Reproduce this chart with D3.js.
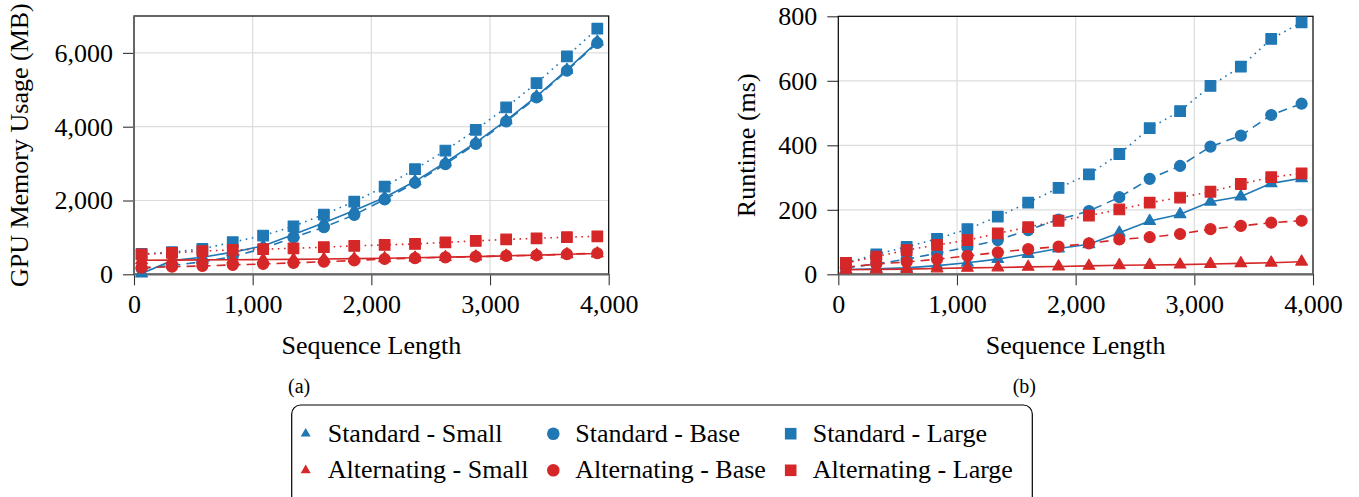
<!DOCTYPE html>
<html lang="en">
<head>
<meta charset="UTF-8">
<title>Memory and runtime vs sequence length</title>
<script src="https://cdnjs.cloudflare.com/ajax/libs/d3/7.6.1/d3.min.js"></script>
<style>
  body { margin: 0; background: #fff; }
  svg text { font-family: "Liberation Serif", "Times New Roman", Tinos, "Noto Serif", "DejaVu Serif", serif !important; fill: #000; }
</style>
</head>
<body>
<svg id="chart" width="1359" height="497"></svg>
<script>
// sequence lengths on the x axis
const seqLen = [64, 320, 576, 832, 1088, 1344, 1600, 1856, 2112, 2368, 2624, 2880, 3136, 3392, 3648, 3904];

// (a) GPU memory usage (MB)
const memStdSmall = [20, 370, 460, 600, 770, 1080, 1400, 1730, 2080, 2520, 3030, 3570, 4170, 4820, 5540, 6300];
const memStdBase  = [160, 240, 340, 480, 700, 1000, 1275, 1610, 2030, 2480, 2985, 3536, 4141, 4792, 5517, 6269];
const memStdLarge = [550, 600, 690, 870, 1050, 1300, 1620, 1970, 2377, 2849, 3354, 3916, 4521, 5183, 5905, 6657];
const memAltSmall = [380, 385, 390, 395, 400, 405, 415, 425, 435, 450, 465, 480, 500, 520, 545, 565];
const memAltBase  = [180, 205, 225, 255, 280, 310, 340, 375, 415, 440, 460, 480, 500, 515, 545, 570];
const memAltLarge = [540, 580, 630, 660, 680, 705, 735, 770, 795, 822, 865, 905, 945, 975, 1005, 1030];

// (b) runtime (ms)
const rtStdSmall = [15, 17, 20, 27, 36, 47, 63, 80, 93, 129, 165, 186, 225, 241, 282, 298];
const rtStdBase  = [20, 32, 47, 65, 84, 106, 137, 170, 196, 239, 296, 336, 396, 430, 494, 529];
const rtStdLarge = [35, 62, 85, 110, 140, 179, 222, 268, 310, 373, 453, 506, 584, 644, 730, 781];
const rtAltSmall = [14, 15, 16, 18, 20, 21, 23, 24, 26, 28, 29, 30, 32, 34, 36, 39];
const rtAltBase  = [22, 32, 38, 47, 57, 68, 78, 86, 96, 108, 115, 125, 140, 150, 160, 166];
const rtAltLarge = [35, 55, 75, 91, 106, 127, 146, 166, 182, 201, 222, 238, 256, 280, 301, 313];

const seriesNames = ["Standard - Small", "Standard - Base", "Standard - Large",
                     "Alternating - Small", "Alternating - Base", "Alternating - Large"];
const xTicks = [0, 1000, 2000, 3000, 4000];
const memTicks = [0, 2000, 4000, 6000];
const rtTicks = [0, 200, 400, 600, 800];

const blue = "#1f77b4", red = "#d62728";
// style per series: colour, marker, dash
const styles = [
  {color: blue, shape: d3.symbolTriangle, dash: null},
  {color: blue, shape: d3.symbolCircle, dash: "9,6"},
  {color: blue, shape: d3.symbolSquare, dash: "1.6,4.6"},
  {color: red, shape: d3.symbolTriangle, dash: null},
  {color: red, shape: d3.symbolCircle, dash: "9,6"},
  {color: red, shape: d3.symbolSquare, dash: "1.6,4.6"}
];
const markSize = {triangle: 58, circle: 95, square: 112};
function sizeOf(shape, k) {
  const s = shape === d3.symbolTriangle ? markSize.triangle
          : shape === d3.symbolCircle ? markSize.circle : markSize.square;
  return s * k;
}

const svg = d3.select("#chart");

function drawPanel(opt) {
  const x = d3.scaleLinear().domain([0, 4000]).range([opt.left, opt.right]);
  const y = d3.scaleLinear().domain([0, opt.ymax]).range([opt.bottom, opt.top]);
  const g = svg.append("g");

  // grid
  g.append("g").selectAll("line").data(xTicks.slice(1, -1)).join("line")
    .attr("x1", d => x(d)).attr("x2", d => x(d))
    .attr("y1", opt.top).attr("y2", opt.bottom)
    .attr("stroke", "#dcdcdc").attr("stroke-width", 1.2);
  g.append("g").selectAll("line").data(opt.yTicks.filter(d => d > 0 && d < opt.ymax)).join("line")
    .attr("x1", opt.left).attr("x2", opt.right)
    .attr("y1", d => y(d)).attr("y2", d => y(d))
    .attr("stroke", "#dcdcdc").attr("stroke-width", 1.2);

  // axes
  const xAxis = g.append("g").attr("transform", `translate(0,${opt.bottom})`)
    .call(d3.axisBottom(x).tickValues(xTicks).tickFormat(d3.format(",")).tickSize(11).tickPadding(9).tickSizeOuter(0));
  const yAxis = g.append("g").attr("transform", `translate(${opt.left},0)`)
    .call(d3.axisLeft(y).tickValues(opt.yTicks).tickFormat(d3.format(",")).tickSize(11).tickPadding(10).tickSizeOuter(0));
  [xAxis, yAxis].forEach(a => {
    a.attr("font-family", null);
    a.select(".domain").remove();
    a.selectAll(".tick line").attr("stroke", "#333").attr("stroke-width", 1.1);
    a.selectAll(".tick text").attr("font-size", 26);
  });

  // frame
  g.append("rect").attr("x", opt.left).attr("y", opt.top)
    .attr("width", opt.right - opt.left).attr("height", opt.bottom - opt.top)
    .attr("fill", "none").attr("stroke", "#000").attr("stroke-width", 1.2);
  g.append("line").attr("x1", opt.left).attr("x2", opt.right)
    .attr("y1", opt.bottom).attr("y2", opt.bottom)
    .attr("stroke", "#666").attr("stroke-width", 2.2);
  if (opt.greyLeft) {
    g.append("line").attr("x1", opt.left).attr("x2", opt.left)
      .attr("y1", opt.top).attr("y2", opt.bottom)
      .attr("stroke", "#666").attr("stroke-width", 2);
  }

  // series
  const line = d3.line().x((d, i) => x(seqLen[i])).y(d => y(d));
  opt.series.forEach((vals, k) => {
    const st = styles[k];
    const s = g.append("g");
    s.append("path").attr("d", line(vals))
      .attr("fill", "none").attr("stroke", st.color).attr("stroke-width", 1.6)
      .attr("stroke-dasharray", st.dash);
    s.selectAll("path.m").data(vals).join("path").attr("class", "m")
      .attr("transform", (d, i) => `translate(${x(seqLen[i])},${y(d)})`)
      .attr("d", d3.symbol().type(st.shape).size(sizeOf(st.shape, 1)))
      .attr("fill", st.color).attr("stroke", st.color).attr("stroke-width", 1.2)
      .attr("stroke-linejoin", "round");
  });

  // axis labels
  svg.append("text").attr("x", (opt.left + opt.right) / 2).attr("y", 354)
    .attr("text-anchor", "middle").attr("font-size", 26).text("Sequence Length");
  svg.append("text").attr("transform", `translate(${opt.ylabX},${(opt.top + opt.bottom) / 2}) rotate(-90)`)
    .attr("text-anchor", "middle").attr("font-size", 26).text(opt.ylabel);
}

drawPanel({left: 134, right: 608.7, top: 16, bottom: 274.3, ymax: 7000, yTicks: memTicks,
  series: [memStdSmall, memStdBase, memStdLarge, memAltSmall, memAltBase, memAltLarge],
  ylabel: "GPU Memory Usage (MB)", ylabX: 28, greyLeft: true});
drawPanel({left: 838.3, right: 1313, top: 16.3, bottom: 274.3, ymax: 800, yTicks: rtTicks,
  series: [rtStdSmall, rtStdBase, rtStdLarge, rtAltSmall, rtAltBase, rtAltLarge],
  ylabel: "Runtime (ms)", ylabX: 755, greyLeft: false});

// sub captions
svg.append("text").attr("x", 288).attr("y", 393).attr("font-size", 20).text("(a)");
svg.append("text").attr("x", 1036).attr("y", 393).attr("text-anchor", "end").attr("font-size", 20).text("(b)");

// legend
const legend = svg.append("g");
legend.append("rect").attr("x", 291.7).attr("y", 405).attr("width", 740.6).attr("height", 110)
  .attr("rx", 9).attr("fill", "#fff").attr("stroke", "#000").attr("stroke-width", 1.2);
const colX = [305.7, 553.3, 790.7];
const rowY = [441.7, 478.3];
seriesNames.forEach((name, k) => {
  const col = k % 3, row = Math.floor(k / 3);
  const st = styles[k];
  const k2 = st.shape === d3.symbolSquare ? 1.2 : st.shape === d3.symbolCircle ? 1.3 : 0.75;
  legend.append("path")
    .attr("transform", `translate(${colX[col]},${rowY[row] - 8})`)
    .attr("d", d3.symbol().type(st.shape).size(sizeOf(st.shape, k2)))
    .attr("fill", st.color);
  legend.append("text").attr("x", colX[col] + 22).attr("y", rowY[row])
    .attr("font-size", 26).text(name);
});
</script>
</body>
</html>
